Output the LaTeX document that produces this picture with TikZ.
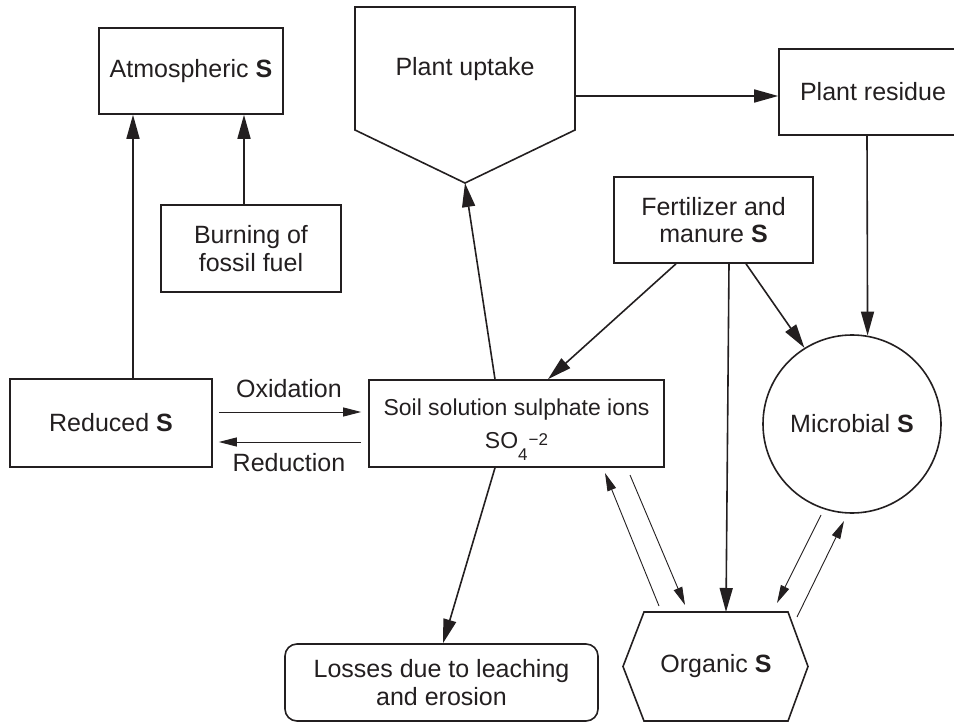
\documentclass[tikz,border=0pt]{standalone}
\usepackage{fontspec}
\setmainfont{Liberation Sans}
\usetikzlibrary{arrows.meta,shapes.geometric}
\definecolor{ink}{HTML}{231F20}
\begin{document}
\begin{tikzpicture}[x=1pt,y=-1pt,
  every node/.style={text=ink},
  box/.style={draw=ink, line width=1.6pt, inner sep=0pt, align=center,
    font=\fontsize{25}{27.5}\selectfont},
  lbl/.style={inner sep=0pt, align=center, font=\fontsize{25}{27.5}\selectfont},
  bigarrow/.style={draw=ink, line width=1.6pt, -{Triangle[length=24pt,width=13pt]}},
  smallarrow/.style={draw=ink, line width=0.9pt, -{Triangle[length=18pt,width=9pt]}}]
\useasboundingbox (0,0) rectangle (954,722);
\clip (0,0) rectangle (954,722);
% nodes
\node[box, minimum width=184pt, minimum height=86pt] (atm) at (191,71) {Atmospheric \textbf{S}};
\node[box, minimum width=180pt, minimum height=87pt] (burn) at (251,248.5) {Burning of\\fossil fuel};
\node[box, minimum width=202pt, minimum height=88pt] (red) at (111,423) {Reduced \textbf{S}};
\node[box, minimum width=295pt, minimum height=87pt, font=\fontsize{23}{33}\selectfont] (soil) at (516.5,423.5)
  {Soil solution sulphate ions\\SO\raisebox{-12pt}[0pt][0pt]{\fontsize{17}{17}\selectfont 4}\raisebox{3pt}[0pt][0pt]{\fontsize{17}{17}\selectfont \kern1pt−2}};
% plant uptake pentagon
\draw[ink, line width=1.6pt] (355,7) -- (575,7) -- (575,130) -- (465,183) -- (355,130) -- cycle;
\node[lbl] (upt) at (465,69) {Plant uptake};
\coordinate (upapex) at (465,183);
\coordinate (upright) at (575,96);
\node[box, minimum width=188pt, minimum height=86pt] (res) at (873,92) {Plant residue};
\node[box, minimum width=199pt, minimum height=86pt] (fert) at (713.5,220) {Fertilizer and\\manure \textbf{S}};
\node[draw=ink, circle, line width=1.6pt, minimum size=178pt, inner sep=0pt,
  font=\fontsize{25}{27.5}\selectfont] (mic) at (852,424) {Microbial \textbf{S}};
% organic hexagon
\draw[ink, line width=1.6pt] (644,612) -- (788,612) -- (808,666.5) -- (788,721) -- (644,721) -- (623,666.5) -- cycle;
\node[lbl] (org) at (716,666.5) {Organic \textbf{S}};
\coordinate (orgtop) at (726,612);
\node[box, rounded corners=12pt, minimum width=313pt, minimum height=77pt] (loss) at (441.5,682.5)
  {Losses due to leaching\\and erosion};
\node[lbl] (ox) at (289,389) {Oxidation};
\node[lbl] (rd) at (289,463) {Reduction};
% connectors
\draw[bigarrow] ([xshift=22pt]red.north) -- ([xshift=-58pt]atm.south);
\draw[bigarrow] ([xshift=-7pt]burn.north) -- ([xshift=53pt]atm.south);
\draw[bigarrow] ([xshift=-21.5pt]soil.north) -- (upapex);
\draw[bigarrow] (upright) -- ([yshift=-4pt]res.west);
\draw[bigarrow] ([xshift=-6pt]res.south) -- (mic.80);
\draw[bigarrow] ([xshift=-37.5pt]fert.south) -- ([xshift=31.5pt]soil.north);
\draw[bigarrow] ([xshift=15.5pt]fert.south) -- (orgtop);
\draw[bigarrow] ([xshift=32.5pt]fert.south) -- (mic.122);
\draw[bigarrow] ([xshift=-21.5pt]soil.south) -- ([xshift=1.5pt]loss.north);
\draw[smallarrow] ([xshift=6pt,yshift=11pt]red.east) -- ([xshift=-7pt,yshift=11.5pt]soil.west);
\draw[smallarrow] ([xshift=-7pt,yshift=-18.5pt]soil.west) -- ([xshift=6pt,yshift=-19pt]red.east);
\coordinate (a1s) at (659,606); \coordinate (a1e) at (605,473);
\coordinate (a2s) at (630,475); \coordinate (a2e) at (685,605);
\coordinate (a3s) at (821,515); \coordinate (a3e) at (777,603);
\coordinate (a4s) at (797,617); \coordinate (a4e) at (844,521);
\draw[smallarrow] (a1s) -- (a1e);
\draw[smallarrow] (a2s) -- (a2e);
\draw[smallarrow] (a3s) -- (a3e);
\draw[smallarrow] (a4s) -- (a4e);
\end{tikzpicture}
\end{document}
